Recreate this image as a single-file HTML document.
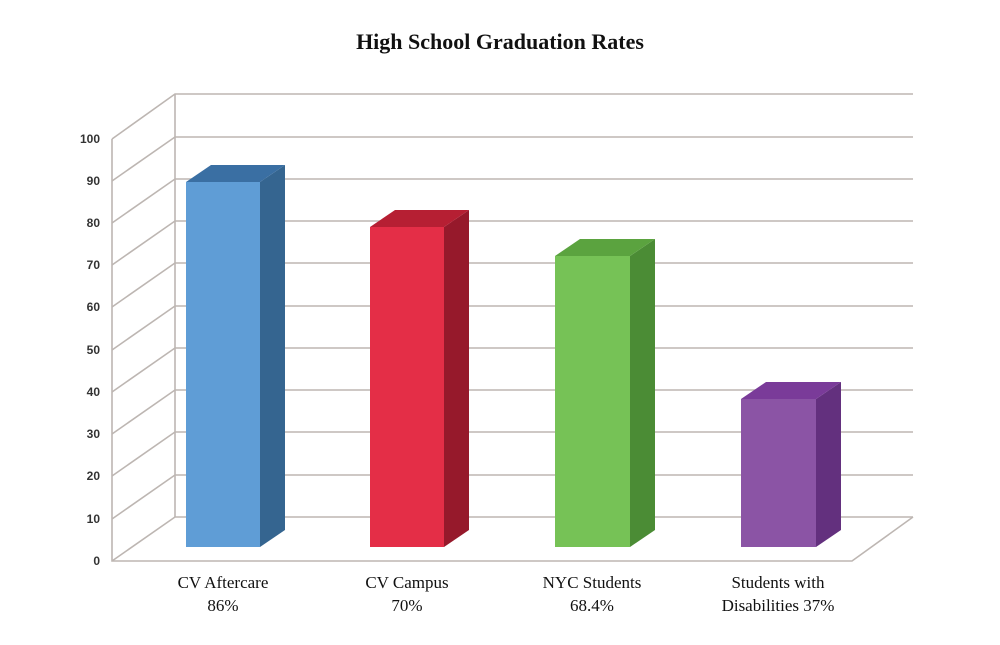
<!DOCTYPE html>
<html><head><meta charset="utf-8"><style>
body{margin:0;background:#fff;width:1000px;height:640px;overflow:hidden}
</style></head><body>
<svg width="1000" height="640" xmlns="http://www.w3.org/2000/svg">
<text x="500" y="49" text-anchor="middle" font-family="Liberation Serif, serif" font-weight="bold" font-size="22" fill="#111">High School Graduation Rates</text>
<g stroke="#bdb6b2" stroke-width="1.6" fill="none">
<path d="M175,94 V517"/>
<path d="M112,139 V561 H852 L913,517"/>
<g id="gl"></g>
</g>
<g id="lines" stroke="#bdb6b2" stroke-width="1.6" fill="none">
<path d="M112,561 L175,517 H913"/>
<path d="M112,519 L175,475 H913"/>
<path d="M112,476 L175,432 H913"/>
<path d="M112,434 L175,390 H913"/>
<path d="M112,392 L175,348 H913"/>
<path d="M112,350 L175,306 H913"/>
<path d="M112,307 L175,263 H913"/>
<path d="M112,265 L175,221 H913"/>
<path d="M112,223 L175,179 H913"/>
<path d="M112,181 L175,137 H913"/>
<path d="M112,139 L175,94 H913"/>
</g>
<g font-family="Liberation Sans, sans-serif" font-weight="bold" font-size="12" fill="#333" text-anchor="end">
<text x="100" y="565">0</text><text x="100" y="523">10</text><text x="100" y="480">20</text><text x="100" y="438">30</text><text x="100" y="396">40</text><text x="100" y="354">50</text><text x="100" y="311">60</text><text x="100" y="269">70</text><text x="100" y="227">80</text><text x="100" y="185">90</text><text x="100" y="143">100</text>
</g>
<!-- bars -->
<g>
<polygon points="260,182 285,165 285,530 260,547" fill="#356590"/>
<polygon points="186,182 211,165 285,165 260,182" fill="#3a6fa3"/>
<rect x="186" y="182" width="74" height="365" fill="#5f9dd6"/>
<polygon points="444,227 469,210 469,530 444,547" fill="#96192b"/>
<polygon points="370,227 395,210 469,210 444,227" fill="#b61f33"/>
<rect x="370" y="227" width="74" height="320" fill="#e42e47"/>
<polygon points="630,256 655,239 655,530 630,547" fill="#4b8c35"/>
<polygon points="555,256 580,239 655,239 630,256" fill="#5ba33f"/>
<rect x="555" y="256" width="75" height="291" fill="#76c256"/>
<polygon points="816,399 841,382 841,530 816,547" fill="#63307e"/>
<polygon points="741,399 766,382 841,382 816,399" fill="#7a3b99"/>
<rect x="741" y="399" width="75" height="148" fill="#8b54a5"/>
</g>
<g font-family="Liberation Serif, serif" font-size="17" fill="#111" text-anchor="middle">
<text x="223" y="588">CV Aftercare</text><text x="223" y="611">86%</text>
<text x="407" y="588">CV Campus</text><text x="407" y="611">70%</text>
<text x="592" y="588">NYC Students</text><text x="592" y="611">68.4%</text>
<text x="778" y="588">Students with</text><text x="778" y="611">Disabilities 37%</text>
</g>
</svg>
</body></html>
